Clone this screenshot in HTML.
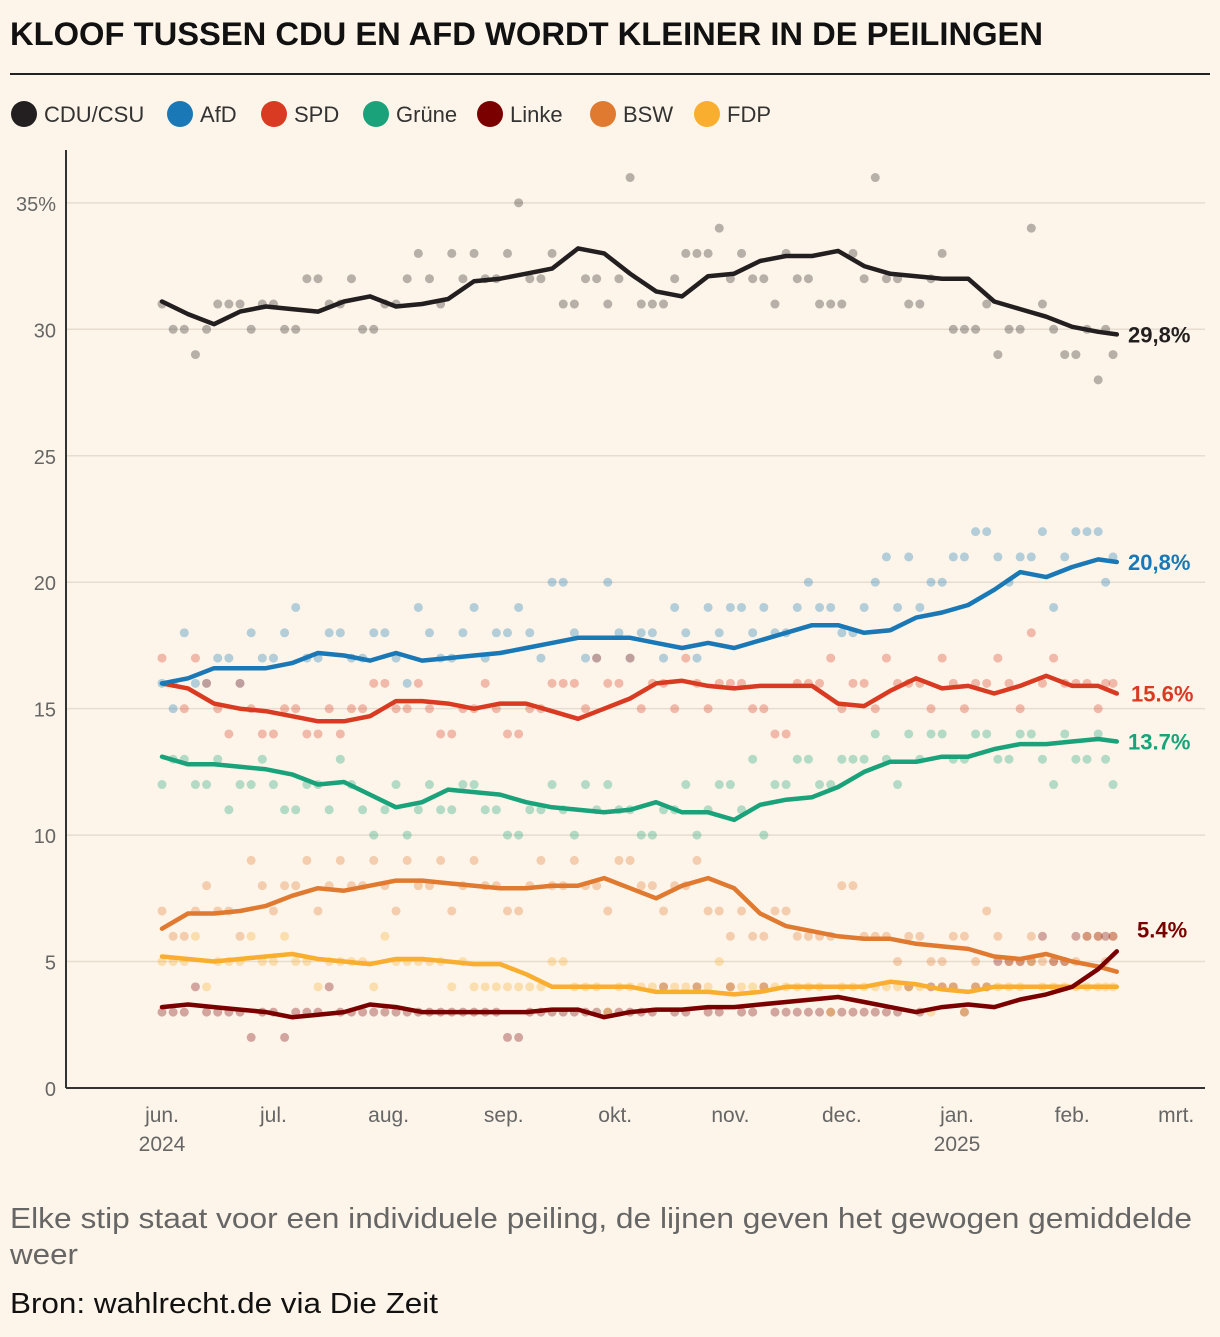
<!DOCTYPE html>
<html><head><meta charset="utf-8">
<style>
body{margin:0;background:#fdf5e9;width:1220px;height:1332px;overflow:hidden;font-family:"Liberation Sans",sans-serif;}
svg text{font-family:"Liberation Sans",sans-serif;}
</style></head>
<body>
<svg id="chart" width="1220" height="1332" xmlns="http://www.w3.org/2000/svg">
<rect width="1220" height="1332" fill="#fdf5e9"/>
<text x="10" y="45" font-size="32" font-weight="bold" fill="#111" textLength="1033" lengthAdjust="spacingAndGlyphs">KLOOF TUSSEN CDU EN AFD WORDT KLEINER IN DE PEILINGEN</text>
<line x1="10" y1="74" x2="1210" y2="74" stroke="#222" stroke-width="2"/>
<g id="legend"></g>
<g id="grid"></g>
<g id="dots"></g>
<g id="lines"></g>
<g id="axes"></g>
<text x="10" y="1228" font-size="29" fill="#666" textLength="1182" lengthAdjust="spacingAndGlyphs">Elke stip staat voor een individuele peiling, de lijnen geven het gewogen gemiddelde</text>
<text x="10" y="1264" font-size="29" fill="#666" textLength="68" lengthAdjust="spacingAndGlyphs">weer</text>
<text x="10" y="1313" font-size="29" fill="#111" textLength="428" lengthAdjust="spacingAndGlyphs">Bron: wahlrecht.de via Die Zeit</text>
</svg>
<script>
const parties = ["CDU/CSU","AfD","SPD","Grüne","Linke","BSW","FDP"];
const colors = ["#231f20","#1a78b6","#d93a22","#1aa27a","#7a0000","#e07a30","#f9ae30"];
const lineDays = [0,7,14,21,28,35,42,49,56,63,70,77,84,91,98,105,112,119,126,133,140,147,154,161,168,175,182,189,196,203,210,217,224,231,238,245,252,257];
const cdu = [31.1,30.6,30.2,30.7,30.9,30.8,30.7,31.1,31.3,30.9,31.0,31.2,31.9,32.0,32.2,32.4,33.2,33.0,32.2,31.5,31.3,32.1,32.2,32.7,32.9,32.9,33.1,32.5,32.2,32.1,32.0,32.0,31.1,30.8,30.5,30.1,29.9,29.8];
const afd = [16.0,16.2,16.6,16.6,16.6,16.8,17.2,17.1,16.9,17.2,16.9,17.0,17.1,17.2,17.4,17.6,17.8,17.8,17.8,17.6,17.4,17.6,17.4,17.7,18.0,18.3,18.3,18.0,18.1,18.6,18.8,19.1,19.7,20.4,20.2,20.6,20.9,20.8];
const spd = [16.0,15.8,15.2,15.0,14.9,14.7,14.5,14.5,14.7,15.3,15.3,15.2,15.0,15.2,15.2,14.9,14.6,15.0,15.4,16.0,16.1,15.9,15.8,15.9,15.9,15.9,15.2,15.1,15.7,16.2,15.8,15.9,15.6,15.9,16.3,15.9,15.9,15.6];
const gruene = [13.1,12.8,12.8,12.7,12.6,12.4,12.0,12.1,11.6,11.1,11.3,11.8,11.7,11.6,11.3,11.1,11.0,10.9,11.0,11.3,10.9,10.9,10.6,11.2,11.4,11.5,11.9,12.5,12.9,12.9,13.1,13.1,13.4,13.6,13.6,13.7,13.8,13.7];
const linke = [3.2,3.3,3.2,3.1,3.0,2.8,2.9,3.0,3.3,3.2,3.0,3.0,3.0,3.0,3.0,3.1,3.1,2.8,3.0,3.1,3.1,3.2,3.2,3.3,3.4,3.5,3.6,3.4,3.2,3.0,3.2,3.3,3.2,3.5,3.7,4.0,4.7,5.4];
const bsw = [6.3,6.9,6.9,7.0,7.2,7.6,7.9,7.8,8.0,8.2,8.2,8.1,8.0,7.9,7.9,8.0,8.0,8.3,7.9,7.5,8.0,8.3,7.9,6.9,6.4,6.2,6.0,5.9,5.9,5.7,5.6,5.5,5.2,5.1,5.3,5.0,4.8,4.6];
const fdp = [5.2,5.1,5.0,5.1,5.2,5.3,5.1,5.0,4.9,5.1,5.1,5.0,4.9,4.9,4.5,4.0,4.0,4.0,4.0,3.8,3.8,3.8,3.7,3.8,4.0,4.0,4.0,4.0,4.2,4.1,3.9,3.8,4.0,4.0,4.0,4.0,4.0,4.0];
const pollDays = [0,6,12,18,24,30,36,42,48,54,60,66,72,78,84,90,96,102,108,114,120,126,132,138,144,150,156,162,168,174,180,186,192,198,204,210,216,222,228,234,240,246,252,256];
const pollDays2 = [3,9,15,21,27,33,39,45,51,57,63,69,75,81,87,93,99,105,111,117,123,129,135,141,147,153,159,165,171,177,183,189,195,201,207,213,219,225,231,237,243,249,254];
const cduPolls = [31,30,30,31,30,31,30,32,31,30,31,32,32,33,33,32,35,32,31,32,31,36,31,32,33,34,33,32,33,32,31,33,36,32,31,33,30,31,30,34,30,29,28,29];
const cduPolls2 = [30,29,31,31,31,30,32,31,32,30,31,33,31,32,32,33,32,33,31,32,32,31,31,33,33,32,32,31,32,31,31,32,32,31,32,30,30,29,30,31,29,30,30];
const afdPolls = [16,18,16,17,18,17,19,17,18,17,18,16,18,17,19,18,19,17,20,17,20,17,18,19,17,18,19,19,18,20,19,18,20,19,19,20,21,22,20,21,19,22,22,21];
const afdPolls2 = [15,16,17,16,17,18,17,18,17,18,17,19,17,18,17,18,18,20,18,17,18,18,17,18,19,19,18,18,19,19,18,19,21,21,20,21,22,21,21,22,21,22,20];
const spdPolls = [17,15,16,14,15,14,15,14,14,15,16,15,15,14,15,15,14,15,16,15,16,17,16,15,16,16,16,15,14,16,17,16,15,16,16,17,15,16,16,18,17,16,15,16];
const spdPolls2 = [16,17,15,16,14,15,14,15,15,16,15,16,14,15,16,14,15,16,16,17,16,15,16,17,15,16,15,14,16,16,15,16,17,16,15,16,16,17,15,16,16,16,16];
const gruenePolls = [12,13,12,11,12,12,11,12,13,11,11,10,12,11,12,11,10,11,11,12,12,11,10,11,10,12,11,10,12,13,12,13,14,12,13,14,13,14,13,14,12,13,14,12];
const gruenePolls2 = [13,12,13,12,13,11,12,11,12,10,12,11,11,12,11,10,11,12,10,11,11,10,11,12,11,12,13,12,13,12,13,13,13,14,14,13,14,13,14,13,14,13,13];
const linkePolls = [3,3,3,3,2,3,3,3,3,3,3,3,3,3,3,3,2,3,3,3,3,3,3,3,4,3,3,4,3,3,3,3,3,3,3,4,3,4,5,5,5,6,6,6];
const linkePolls2 = [3,4,3,3,3,2,3,4,3,3,3,3,3,3,3,2,3,3,3,3,3,3,4,3,3,4,3,3,3,3,3,3,3,4,4,4,4,5,5,6,5,6,6];
const bswPolls = [7,6,8,7,9,7,8,7,9,8,8,9,8,7,9,8,7,9,8,8,7,9,8,8,9,7,7,6,7,6,6,8,6,5,6,5,6,7,5,6,5,5,6,6];
const bswPolls2 = [6,7,7,6,8,8,9,8,8,9,7,8,9,8,8,7,8,8,9,8,9,8,7,8,7,6,6,7,6,6,8,6,6,6,5,6,5,6,5,5,5,6,5];
const fdpPolls = [5,5,4,5,6,5,5,4,5,5,6,5,5,4,4,4,4,4,5,4,3,4,4,4,4,5,4,4,4,4,3,4,4,4,4,4,3,4,4,5,4,4,4,4];
const fdpPolls2 = [5,6,5,5,5,6,5,5,5,4,5,5,5,5,4,4,4,5,4,4,4,4,4,4,4,4,4,4,4,4,4,4,4,4,3,4,4,4,4,4,4,4,4];
const yTicks = [0,5,10,15,20,25,30,35];
const yTickLabels = ["0","5","10","15","20","25","30","35%"];
const monthDays = [0,30,61,92,122,153,183,214,245,273];
const monthLabels = ["jun.","jul.","aug.","sep.","okt.","nov.","dec.","jan.","feb.","mrt."];
const yearLabels = ["2024","","","","","","","2025","",""];
const endLabels = ["29,8%","20,8%","15.6%","13.7%","5.4%"];
const endParties = [0,1,2,3,4];

const series = [cdu,afd,spd,gruene,linke,bsw,fdp];
const polls = [cduPolls,afdPolls,spdPolls,gruenePolls,linkePolls,bswPolls,fdpPolls];
const polls2 = [cduPolls2,afdPolls2,spdPolls2,gruenePolls2,linkePolls2,bswPolls2,fdpPolls2];
const NS="http://www.w3.org/2000/svg";
const x = d => 162 + d*3.715;
const y = v => 1088 - v*25.29;
function mk(tag, attrs, parent){const e=document.createElementNS(NS,tag);for(const k in attrs)e.setAttribute(k,attrs[k]);parent.appendChild(e);return e;}

// legend
const lg=document.getElementById('legend');
const legX=[24,180,274,376,490,603,707];
parties.forEach((p,i)=>{
  const c=mk('circle',{cx:legX[i],cy:114,r:13,fill:colors[i]},lg);
  
  
  const t=mk('text',{x:legX[i]+20,y:122,'font-size':22,fill:'#333'},lg);
  
  
  t.textContent=p;
});

// grid & y ticks
const g=document.getElementById('grid');
yTicks.forEach((v,i)=>{
  if(v>0){const l=mk('line',{x1:66,x2:1205,y1:y(v),y2:y(v),stroke:'#e6ddd0','stroke-width':1.5},g);
  
  }
  const t=mk('text',{x:56,y:y(v)+8,'font-size':20,fill:'#666','text-anchor':'end'},g);
  
  
  t.textContent=yTickLabels[i];
});

// dots
const dg=document.getElementById('dots');
function drawDots(days,sets){
  sets.forEach((arr,i)=>{
    arr.forEach((v,j)=>{
      const c=mk('circle',{cx:x(days[j]),cy:y(v),r:4.5,fill:colors[i],'fill-opacity':0.32},dg);
      
      
    });
  });
}
drawDots(pollDays,polls);
drawDots(pollDays2,polls2);

// lines
const lgp=document.getElementById('lines');
[6,5,3,2,1,0,4].forEach(i=>{
  const d=series[i].map((v,j)=>(j?'L':'M')+x(lineDays[j]).toFixed(1)+','+y(v).toFixed(1)).join('');
  const p=mk('path',{d:d,fill:'none',stroke:colors[i],'stroke-width':4.5,'stroke-linejoin':'round','stroke-linecap':'round'},lgp);
  
  
});

// end labels
endParties.forEach((pi,k)=>{
  const s=series[pi];let yy=y(s[s.length-1])+8;
  let xx=1128;
  if(pi==4){yy=y(5.4)-14;xx=1137;}
  if(pi==2){xx=1131;}
  const t=mk('text',{x:xx,y:yy,'font-size':22,'font-weight':'bold',fill:colors[pi]},lgp);
  
  
  t.textContent=endLabels[k];
});

// axes
const ax=document.getElementById('axes');
mk('line',{x1:66,x2:66,y1:150,y2:1088,stroke:'#333','stroke-width':2},ax);
mk('line',{x1:66,x2:1205,y1:1088,y2:1088,stroke:'#333','stroke-width':2},ax);
monthDays.forEach((d,i)=>{
  const t=mk('text',{x:x(d),y:1122,'font-size':21,fill:'#666','text-anchor':'middle'},ax);
  
  
  t.textContent=monthLabels[i];
  if(yearLabels[i]){const t2=mk('text',{x:x(d),y:1151,'font-size':21,fill:'#666','text-anchor':'middle'},ax);
  
  
  t2.textContent=yearLabels[i];}
});
</script>
</body></html>
